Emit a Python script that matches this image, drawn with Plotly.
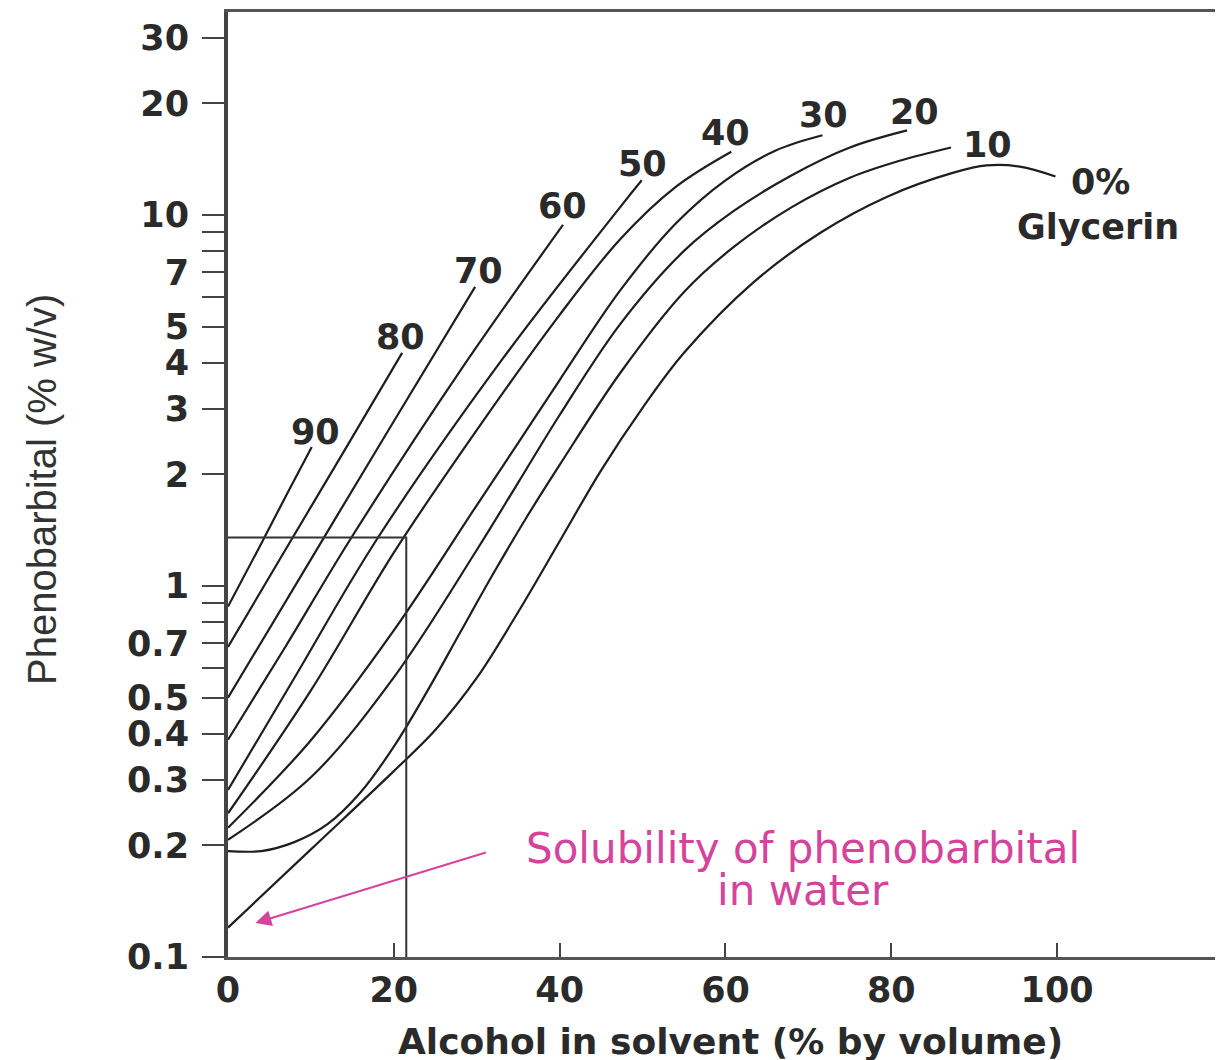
import math
import plotly.graph_objects as go

# ---------------- data ----------------
glycerin_pct = [0, 10, 20, 30, 40, 50, 60, 70, 80, 90]
curve_labels = ["0%", "10", "20", "30", "40", "50", "60", "70", "80", "90"]

alc_g0 = [0, 10, 20, 25, 30, 35, 40, 45, 50, 55, 63.3, 71.4, 79.5, 87.5, 91.5, 95.5, 99.8]
phe_g0 = [0.12, 0.195, 0.317, 0.409, 0.565, 0.851, 1.32, 2.05, 3.02, 4.25, 6.56, 8.94, 11.2, 13.0, 13.6, 13.5, 12.7]

alc_g10 = [0, 4, 8, 12, 16, 20, 24, 28, 32, 36, 40, 47.3, 55, 61, 68, 75, 81, 87.2]
phe_g10 = [0.193, 0.193, 0.204, 0.228, 0.278, 0.369, 0.519, 0.749, 1.08, 1.53, 2.12, 3.75, 6.20, 8.20, 10.5, 12.6, 14.0, 15.2]

alc_g20 = [0, 10, 20, 30, 35, 40, 47.3, 55, 61, 68, 75, 81.9]
phe_g20 = [0.207, 0.305, 0.567, 1.25, 1.90, 2.89, 5.08, 8.0, 10.25, 12.8, 15.2, 16.9]

alc_g30 = [0, 10, 20, 30, 35, 40, 47.3, 54, 60, 66, 71.7]
phe_g30 = [0.223, 0.384, 0.759, 1.65, 2.43, 3.59, 6.26, 9.48, 12.4, 14.9, 16.4]

alc_g40 = [0, 10, 20, 30, 40, 47.3, 54, 60.7]
phe_g40 = [0.244, 0.523, 1.23, 2.63, 5.38, 8.60, 11.9, 14.8]

alc_g50 = [0, 8, 17.9, 33, 47.3, 49.9]
phe_g50 = [0.282, 0.565, 1.33, 4.06, 10.5, 12.4]

alc_g60 = [0, 7, 14.7, 28, 40.4]
phe_g60 = [0.385, 0.69, 1.33, 3.8, 9.4]

alc_g70 = [0, 10, 20, 29.8]
phe_g70 = [0.50, 1.18, 2.78, 6.4]

alc_g80 = [0, 7, 14, 21]
phe_g80 = [0.685, 1.26, 2.31, 4.25]

alc_g90 = [0, 4, 7, 10.1]
phe_g90 = [0.88, 1.30, 1.75, 2.37]

# inset box (enlarged region)
inset_alc = [0, 21.5, 21.5]
inset_phe = [1.35, 1.35, 0.1]

# water solubility pointer tip
water_tip_alc = 3.3
water_tip_phe = 0.1235

x_tickvals = [0, 20, 40, 60, 80, 100]
x_ticktext = ["0", "20", "40", "60", "80", "100"]
y_tickvals = [0.1, 0.2, 0.3, 0.4, 0.5, 0.6, 0.7, 0.8, 0.9, 1, 2, 3, 4, 5, 6, 7, 8, 9, 10, 20, 30]
y_ticktext = ["0.1", "0.2", "0.3", "0.4", "0.5", "", "0.7", "", "", "1", "2", "3", "4", "5", "", "7", "", "", "10", "20", "30"]

# ---------------- figure ----------------
curves = [
    (alc_g0, phe_g0), (alc_g10, phe_g10), (alc_g20, phe_g20), (alc_g30, phe_g30),
    (alc_g40, phe_g40), (alc_g50, phe_g50), (alc_g60, phe_g60), (alc_g70, phe_g70),
    (alc_g80, phe_g80), (alc_g90, phe_g90),
]

LINE = "#1e1e1e"
TEXT = "#2a2a2a"
PINK = "#d4449c"
BOLD = dict(family="DejaVu Sans", size=35, color=TEXT, weight="bold")

# page offset of the figure (browser body margin)
OFF = 8
W, H = 1223 - OFF, 1060 - OFF
L, T, R, B = 228, 12, 1218, 957          # plot-area box in page pixels
def px(xp):
    return (xp - L) / (R - L)
def py(yp):
    return (B - yp) / (B - T)

fig = go.Figure()
for (xs, ys), g in zip(curves, glycerin_pct):
    fig.add_trace(go.Scatter(x=xs, y=ys, mode="lines", name=f"{g}% glycerin",
                             line=dict(color=LINE, width=2.2, shape="spline", smoothing=1.0),
                             hoverinfo="skip"))

fig.add_trace(go.Scatter(x=inset_alc, y=inset_phe, mode="lines",
                         line=dict(color="#333333", width=2), hoverinfo="skip"))

# curve-end label offsets (pixels)
label_shift = {
    "0%": (45, -6), "10": (36, 2), "20": (7, 18), "30": (1, 20), "40": (-6, 19),
    "50": (1, 16), "60": (0, 19), "70": (3, 16), "80": (-2, 16), "90": (4, 15),
}
annotations = []
for (xs, ys), lab in zip(curves, curve_labels):
    dx, dy = label_shift[lab]
    annotations.append(dict(x=xs[-1], y=math.log10(ys[-1]), text=lab, showarrow=False,
                            xanchor="center", yanchor="middle",
                            xshift=dx, yshift=dy, font=BOLD))
annotations.append(dict(x=alc_g0[-1], y=math.log10(phe_g0[-1]), text="Glycerin", showarrow=False,
                        xanchor="center", yanchor="middle",
                        xshift=43, yshift=-51, font=BOLD))

# pointer arrow + pink text
annotations.append(dict(x=water_tip_alc, y=math.log10(water_tip_phe), text="", showarrow=True,
                        ax=232, ay=-71, arrowcolor=PINK, arrowwidth=2, arrowhead=2,
                        arrowsize=1.6, standoff=0))
PINKFONT = dict(family="DejaVu Sans", size=42, color=PINK)
annotations.append(dict(xref="paper", yref="paper", x=px(803), y=py(848), xanchor="center", yanchor="middle",
                        text="Solubility of phenobarbital", showarrow=False, font=PINKFONT))
annotations.append(dict(xref="paper", yref="paper", x=px(803), y=py(890), xanchor="center", yanchor="middle",
                        text="in water", showarrow=False, font=PINKFONT))

# axis titles
annotations.append(dict(xref="paper", yref="paper", x=px(730), y=py(1041), xanchor="center", yanchor="middle",
                        text="Alcohol in solvent (% by volume)", showarrow=False,
                        font=dict(family="DejaVu Sans", size=36, color=TEXT, weight="bold")))
annotations.append(dict(xref="paper", yref="paper", x=px(42), y=py(490), xanchor="center", yanchor="middle",
                        text="Phenobarbital (% w/v)", showarrow=False, textangle=-90,
                        font=dict(family="Liberation Sans Narrow, Liberation Sans", size=40, color="#333333")))

fig.update_layout(
    width=W, height=H,
    margin=dict(l=L - OFF, r=W - (R - OFF), t=T - OFF, b=H - (B - OFF), pad=0),
    paper_bgcolor="white", plot_bgcolor="white",
    showlegend=False,
    annotations=annotations,
    xaxis=dict(range=[0, 119.4], showgrid=False, zeroline=False, automargin=False,
               showline=True, linecolor="#555555", linewidth=3, mirror=True,
               ticks="inside", ticklen=14, tickwidth=2, tickcolor="#444444",
               tickvals=x_tickvals, ticktext=x_ticktext, ticklabelstandoff=0,
               tickfont=BOLD),
    yaxis=dict(type="log", range=[-1, 1.547], showgrid=False, zeroline=False, automargin=False,
               showline=True, linecolor="#444444", linewidth=4, mirror=True,
               ticks="outside", ticklen=22, tickwidth=2, tickcolor="#444444",
               tickvals=y_tickvals, ticktext=y_ticktext, ticklabelstandoff=6,
               tickfont=BOLD),
)

fig.write_html("out.html")
